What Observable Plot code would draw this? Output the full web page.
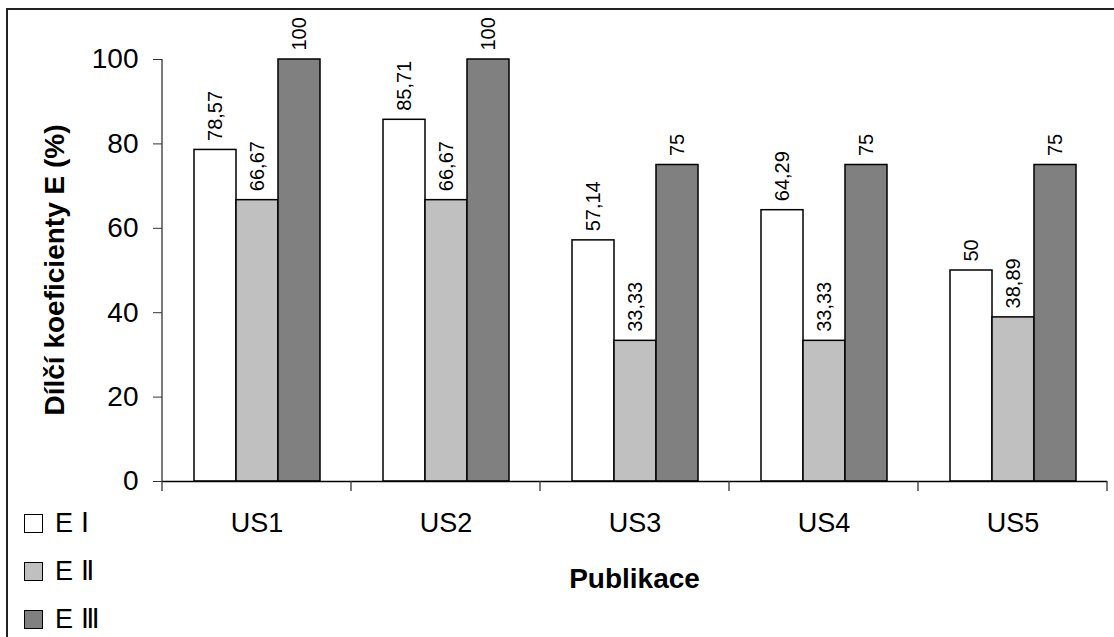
<!DOCTYPE html>
<html>
<head>
<meta charset="utf-8">
<script src="https://cdn.jsdelivr.net/npm/d3@7"></script>
<script src="https://cdn.jsdelivr.net/npm/@observablehq/plot@0.6"></script>
<style>
  html, body { margin: 0; padding: 0; background: #fff; }
  #wrap { position: relative; width: 1114px; height: 637px; overflow: hidden;
          font-family: Arial, "Liberation Sans", sans-serif; }
  #border { position: absolute; left: 6px; top: 8px; width: 1200px; height: 700px;
            border-left: 2px solid #222; border-top: 2px solid #222; box-sizing: border-box; }
  #chart { position: absolute; left: 0; top: 0; }
  #legend { position: absolute; left: 24px; top: 511px; }
  .item { display: flex; align-items: center; height: 25px; margin-bottom: 23px; }
  .swatch { width: 19px; height: 19px; box-sizing: border-box; border: 1.5px solid #000; margin-right: 12px; }
  .item span { font-size: 27px; color: #000; line-height: 25px; }
</style>
</head>
<body>
<div id="wrap">
  <div id="border"></div>
  <div id="chart"></div>
  <div id="legend"></div>
</div>
<script>
// Publications and the three partial coefficients E (%)
const categories = ["US1", "US2", "US3", "US4", "US5"];
const series = ["E Ⅰ", "E Ⅱ", "E Ⅲ"];
const eI   = [78.57, 85.71, 57.14, 64.29, 50];
const eII  = [66.67, 66.67, 33.33, 33.33, 38.89];
const eIII = [100, 100, 75, 75, 75];
const colors = ["#ffffff", "#c0c0c0", "#808080"];
const yTicks = [0, 20, 40, 60, 80, 100];
const yTitle = "Dílčí koeficienty E (%)";
const xTitle = "Publikace";

const valuesBySeries = [eI, eII, eIII];
const data = categories.flatMap((c, i) =>
  series.map((s, j) => ({category: c, series: s, value: valuesBySeries[j][i]}))
);
const fmt = v => String(v).replace(".", ",");

const W = 1114, H = 637;
const plot = Plot.plot({
  width: W,
  height: H,
  marginLeft: 161,
  marginRight: 6,
  marginTop: 59,
  marginBottom: 156,
  style: {fontFamily: "Arial, 'Liberation Sans', sans-serif", background: "transparent", color: "#000", overflow: "visible"},
  fx: {domain: categories, padding: 0},
  x: {domain: series, paddingInner: 0, paddingOuter: 0.7, axis: null},
  y: {domain: [0, 100]},
  color: {domain: series, range: colors},
  marks: [
    Plot.axisY({ticks: yTicks, tickSize: 9, tickPadding: 15, fontSize: 28, label: null, stroke: "#333", tickFormat: d => d}),
    Plot.axisFx({anchor: "bottom", tickSize: 0, tickPadding: 31, fontSize: 27, label: null}),
    Plot.barY(data, {fx: "category", x: "series", y: "value", fill: "series", stroke: "#000", strokeWidth: 1.5}),
    Plot.text(data, {fx: "category", x: "series", y: "value", text: d => fmt(d.value),
      rotate: -90, textAnchor: "start", dy: -9, fontSize: 20, fill: "#000"}),
    Plot.ruleY([0], {stroke: "#000", strokeWidth: 1.3})
  ]
});
document.getElementById("chart").appendChild(plot);

// Axis line and category boundary ticks, placed with the plot's own scales
const svg = d3.select(plot);
const fx = plot.scale("fx");
const y = plot.scale("y");
const y0 = y.apply(0), y100 = y.apply(100);
const xLeft = fx.apply(categories[0]);
const bw = fx.bandwidth;
svg.append("line")
  .attr("x1", xLeft).attr("x2", xLeft).attr("y1", y100).attr("y2", y0)
  .attr("stroke", "#333").attr("stroke-width", 1.3);
const bounds = categories.map(c => fx.apply(c)).concat([fx.apply(categories[categories.length - 1]) + bw]);
svg.append("g").selectAll("line").data(bounds).join("line")
  .attr("x1", d => d).attr("x2", d => d).attr("y1", y0).attr("y2", y0 + 10)
  .attr("stroke", "#333").attr("stroke-width", 1.3);

// Axis titles
const cx = (fx.apply(categories[0]) + bounds[bounds.length - 1]) / 2;
svg.append("text")
  .attr("transform", `translate(54,${(y0 + y100) / 2}) rotate(-90)`)
  .attr("text-anchor", "middle").attr("dominant-baseline", "central")
  .attr("font-size", 28).attr("font-weight", "bold").attr("fill", "#000")
  .text(yTitle);
svg.append("text")
  .attr("x", cx).attr("y", 578)
  .attr("text-anchor", "middle").attr("dominant-baseline", "central")
  .attr("font-size", 28).attr("font-weight", "bold").attr("fill", "#000")
  .text(xTitle);

// Legend
const legend = d3.select("#legend");
series.forEach((s, i) => {
  const item = legend.append("div").attr("class", "item");
  item.append("div").attr("class", "swatch").style("background", colors[i]);
  item.append("span").text(s);
});
</script>
</body>
</html>
